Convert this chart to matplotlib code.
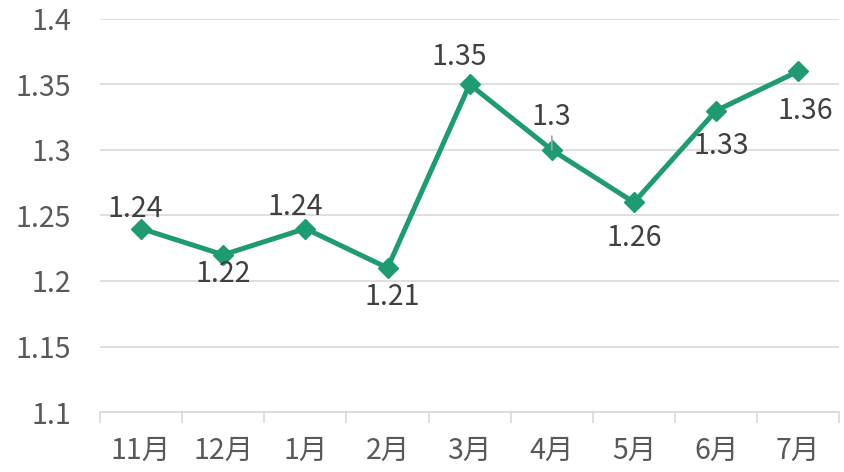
import matplotlib
matplotlib.use("Agg")
import matplotlib.pyplot as plt
from matplotlib.ticker import FixedLocator

plt.rcParams["font.family"] = ["Noto Sans CJK SC", "DejaVu Sans"]

months = ["11月", "12月", "1月", "2月", "3月", "4月", "5月", "6月", "7月"]
values = [1.24, 1.22, 1.24, 1.21, 1.35, 1.30, 1.26, 1.33, 1.36]
labels = ["1.24", "1.22", "1.24", "1.21", "1.35", "1.3", "1.26", "1.33", "1.36"]
yticks = [1.1, 1.15, 1.2, 1.25, 1.3, 1.35, 1.4]
ytick_labels = ["1.1", "1.15", "1.2", "1.25", "1.3", "1.35", "1.4"]

# label offsets in points (hand-placed in the original)
label_dx = [-4.3, 0, -7.2, 3.6, -7.2, 0, 0, 3.6, 5]
label_dy = [14, -14, 15.8, -21.2, 19.4, 23.4, -25.6, -25.6, -28.8]

GREEN = "#1f9a73"
fig = plt.figure(figsize=(8.44, 4.72), dpi=100)
ax = fig.add_axes([0.1185, 0.127, 0.876, 0.833])

x = range(len(months))
ax.plot(x, values, color=GREEN, lw=3.6, marker="D", ms=10, zorder=3)
for i, (v, lab, dx, dy) in enumerate(zip(values, labels, label_dx, label_dy)):
    ax.annotate(lab, (i, v), xytext=(dx, dy), textcoords="offset points",
                ha="center", va="center", fontsize=20.5, color="#404040")
# small leader line under the "1.3" label
ax.annotate("", xy=(5, values[5]), xytext=(0, 10), textcoords="offset points",
            arrowprops=dict(arrowstyle="-", color="#a6a6a6", lw=1.2, shrinkA=0, shrinkB=0),
            zorder=4)

ax.set_ylim(1.1, 1.4)
ax.set_xlim(-0.5, len(months) - 0.5)
ax.set_yticks(yticks)
ax.set_yticklabels(ytick_labels)
ax.grid(axis="y", color="#d9d9d9", lw=1.2)
ax.set_axisbelow(True)

ax.set_xticks(list(x))
ax.set_xticklabels(months)
ax.xaxis.set_minor_locator(FixedLocator([i - 0.5 for i in range(len(months) + 1)]))
ax.tick_params(axis="x", which="major", length=0, pad=17, labelsize=20.5, labelcolor="#595959")
ax.tick_params(axis="x", which="minor", length=8, width=1.2, color="#d9d9d9")
ax.tick_params(axis="y", length=0, pad=21, labelsize=20.5, labelcolor="#595959")

for s in ["top", "right", "left"]:
    ax.spines[s].set_visible(False)
ax.spines["bottom"].set_color("#d9d9d9")
ax.spines["bottom"].set_linewidth(1.2)

fig.savefig("out.png", dpi=100)
